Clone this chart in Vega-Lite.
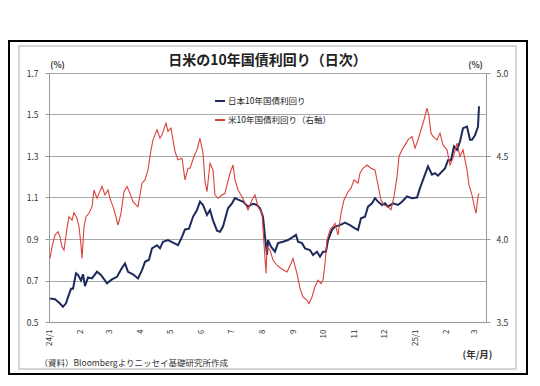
{
  "$schema": "https://vega.github.io/schema/vega-lite/v6.json",
  "width": 437,
  "height": 249,
  "autosize": {"type": "none"},
  "padding": {"left": 49, "top": 73, "right": 54, "bottom": 64},
  "background": "white",
  "config": {
    "font": "Noto Sans CJK JP",
    "view": {"stroke": null},
    "axis": {"labelFont": "Noto Sans CJK JP", "titleFont": "Noto Sans CJK JP", "labelColor": "#333333", "titleColor": "#333333"}
  },
  "title": {"text": "日米の10年国債利回り（日次）", "fontSize": 14, "fontWeight": "bold", "color": "#222222", "anchor": "middle", "frame": "group", "baseline": "middle", "offset": -35},
  "datasets": {
    "frame": [{"k": 1}],
    "jp": [{"d":"2024-01-02","v":0.613},{"d":"2024-01-07","v":0.61},{"d":"2024-01-12","v":0.589},{"d":"2024-01-15","v":0.573},{"d":"2024-01-18","v":0.59},{"d":"2024-01-20","v":0.62},{"d":"2024-01-23","v":0.66},{"d":"2024-01-25","v":0.66},{"d":"2024-01-28","v":0.735},{"d":"2024-01-30","v":0.727},{"d":"2024-02-02","v":0.70},{"d":"2024-02-04","v":0.73},{"d":"2024-02-06","v":0.673},{"d":"2024-02-09","v":0.715},{"d":"2024-02-13","v":0.71},{"d":"2024-02-18","v":0.742},{"d":"2024-02-22","v":0.727},{"d":"2024-02-28","v":0.686},{"d":"2024-03-04","v":0.705},{"d":"2024-03-09","v":0.718},{"d":"2024-03-13","v":0.753},{"d":"2024-03-17","v":0.782},{"d":"2024-03-20","v":0.742},{"d":"2024-03-25","v":0.73},{"d":"2024-03-30","v":0.71},{"d":"2024-04-03","v":0.75},{"d":"2024-04-06","v":0.79},{"d":"2024-04-10","v":0.80},{"d":"2024-04-13","v":0.855},{"d":"2024-04-18","v":0.87},{"d":"2024-04-21","v":0.855},{"d":"2024-04-24","v":0.887},{"d":"2024-04-29","v":0.895},{"d":"2024-05-04","v":0.882},{"d":"2024-05-09","v":0.87},{"d":"2024-05-13","v":0.91},{"d":"2024-05-16","v":0.946},{"d":"2024-05-20","v":0.95},{"d":"2024-05-24","v":1.007},{"d":"2024-05-28","v":1.04},{"d":"2024-05-31","v":1.08},{"d":"2024-06-03","v":1.064},{"d":"2024-06-07","v":1.016},{"d":"2024-06-10","v":1.04},{"d":"2024-06-13","v":0.99},{"d":"2024-06-17","v":0.94},{"d":"2024-06-20","v":0.935},{"d":"2024-06-23","v":0.96},{"d":"2024-06-28","v":1.048},{"d":"2024-07-02","v":1.072},{"d":"2024-07-05","v":1.097},{"d":"2024-07-08","v":1.09},{"d":"2024-07-13","v":1.08},{"d":"2024-07-18","v":1.056},{"d":"2024-07-23","v":1.07},{"d":"2024-07-27","v":1.064},{"d":"2024-07-30","v":1.048},{"d":"2024-08-02","v":1.007},{"d":"2024-08-04","v":0.91},{"d":"2024-08-06","v":0.823},{"d":"2024-08-07","v":0.895},{"d":"2024-08-10","v":0.863},{"d":"2024-08-14","v":0.839},{"d":"2024-08-17","v":0.88},{"d":"2024-08-22","v":0.887},{"d":"2024-08-27","v":0.895},{"d":"2024-09-01","v":0.91},{"d":"2024-09-04","v":0.92},{"d":"2024-09-06","v":0.887},{"d":"2024-09-10","v":0.88},{"d":"2024-09-13","v":0.855},{"d":"2024-09-18","v":0.847},{"d":"2024-09-21","v":0.823},{"d":"2024-09-25","v":0.839},{"d":"2024-09-28","v":0.815},{"d":"2024-10-01","v":0.839},{"d":"2024-10-04","v":0.839},{"d":"2024-10-06","v":0.895},{"d":"2024-10-10","v":0.944},{"d":"2024-10-13","v":0.96},{"d":"2024-10-18","v":0.967},{"d":"2024-10-23","v":0.979},{"d":"2024-10-28","v":0.967},{"d":"2024-11-02","v":0.951},{"d":"2024-11-05","v":0.943},{"d":"2024-11-08","v":1.0},{"d":"2024-11-12","v":1.007},{"d":"2024-11-15","v":1.056},{"d":"2024-11-19","v":1.072},{"d":"2024-11-22","v":1.097},{"d":"2024-11-25","v":1.08},{"d":"2024-11-29","v":1.064},{"d":"2024-12-02","v":1.072},{"d":"2024-12-05","v":1.056},{"d":"2024-12-10","v":1.072},{"d":"2024-12-15","v":1.064},{"d":"2024-12-19","v":1.08},{"d":"2024-12-24","v":1.105},{"d":"2024-12-29","v":1.097},{"d":"2025-01-03","v":1.10},{"d":"2025-01-06","v":1.145},{"d":"2025-01-09","v":1.185},{"d":"2025-01-14","v":1.25},{"d":"2025-01-18","v":1.21},{"d":"2025-01-21","v":1.217},{"d":"2025-01-24","v":1.205},{"d":"2025-01-28","v":1.225},{"d":"2025-01-31","v":1.24},{"d":"2025-02-03","v":1.28},{"d":"2025-02-06","v":1.28},{"d":"2025-02-09","v":1.346},{"d":"2025-02-12","v":1.33},{"d":"2025-02-15","v":1.37},{"d":"2025-02-18","v":1.434},{"d":"2025-02-22","v":1.442},{"d":"2025-02-25","v":1.378},{"d":"2025-02-27","v":1.378},{"d":"2025-03-02","v":1.40},{"d":"2025-03-05","v":1.442},{"d":"2025-03-06","v":1.54}],
    "us": [{"d":"2024-01-02","v":3.883},{"d":"2024-01-04","v":3.953},{"d":"2024-01-07","v":4.024},{"d":"2024-01-10","v":4.044},{"d":"2024-01-12","v":4.014},{"d":"2024-01-14","v":3.953},{"d":"2024-01-16","v":3.933},{"d":"2024-01-19","v":4.064},{"d":"2024-01-21","v":4.134},{"d":"2024-01-24","v":4.114},{"d":"2024-01-26","v":4.159},{"d":"2024-01-29","v":4.124},{"d":"2024-01-31","v":4.074},{"d":"2024-02-02","v":3.963},{"d":"2024-02-03","v":3.883},{"d":"2024-02-05","v":4.074},{"d":"2024-02-07","v":4.134},{"d":"2024-02-10","v":4.155},{"d":"2024-02-13","v":4.195},{"d":"2024-02-15","v":4.295},{"d":"2024-02-18","v":4.245},{"d":"2024-02-20","v":4.275},{"d":"2024-02-23","v":4.316},{"d":"2024-02-26","v":4.265},{"d":"2024-02-29","v":4.295},{"d":"2024-03-02","v":4.245},{"d":"2024-03-05","v":4.195},{"d":"2024-03-08","v":4.134},{"d":"2024-03-10","v":4.084},{"d":"2024-03-13","v":4.155},{"d":"2024-03-16","v":4.285},{"d":"2024-03-19","v":4.316},{"d":"2024-03-22","v":4.275},{"d":"2024-03-25","v":4.225},{"d":"2024-03-28","v":4.205},{"d":"2024-03-30","v":4.195},{"d":"2024-04-03","v":4.336},{"d":"2024-04-06","v":4.356},{"d":"2024-04-09","v":4.416},{"d":"2024-04-12","v":4.537},{"d":"2024-04-14","v":4.597},{"d":"2024-04-18","v":4.658},{"d":"2024-04-21","v":4.607},{"d":"2024-04-23","v":4.628},{"d":"2024-04-27","v":4.698},{"d":"2024-04-29","v":4.648},{"d":"2024-05-02","v":4.668},{"d":"2024-05-06","v":4.527},{"d":"2024-05-09","v":4.477},{"d":"2024-05-13","v":4.487},{"d":"2024-05-16","v":4.356},{"d":"2024-05-19","v":4.426},{"d":"2024-05-21","v":4.426},{"d":"2024-05-25","v":4.497},{"d":"2024-05-28","v":4.537},{"d":"2024-05-31","v":4.607},{"d":"2024-06-03","v":4.517},{"d":"2024-06-05","v":4.346},{"d":"2024-06-07","v":4.285},{"d":"2024-06-10","v":4.456},{"d":"2024-06-13","v":4.416},{"d":"2024-06-15","v":4.265},{"d":"2024-06-18","v":4.245},{"d":"2024-06-22","v":4.265},{"d":"2024-06-25","v":4.275},{"d":"2024-06-27","v":4.326},{"d":"2024-06-30","v":4.396},{"d":"2024-07-03","v":4.446},{"d":"2024-07-05","v":4.356},{"d":"2024-07-08","v":4.295},{"d":"2024-07-12","v":4.255},{"d":"2024-07-15","v":4.215},{"d":"2024-07-18","v":4.175},{"d":"2024-07-22","v":4.235},{"d":"2024-07-25","v":4.265},{"d":"2024-07-28","v":4.195},{"d":"2024-08-01","v":4.155},{"d":"2024-08-03","v":3.973},{"d":"2024-08-05","v":3.792},{"d":"2024-08-06","v":3.953},{"d":"2024-08-09","v":3.933},{"d":"2024-08-12","v":3.873},{"d":"2024-08-16","v":3.842},{"d":"2024-08-20","v":3.822},{"d":"2024-08-23","v":3.812},{"d":"2024-08-26","v":3.802},{"d":"2024-08-30","v":3.852},{"d":"2024-09-01","v":3.883},{"d":"2024-09-05","v":3.792},{"d":"2024-09-08","v":3.702},{"d":"2024-09-11","v":3.651},{"d":"2024-09-15","v":3.631},{"d":"2024-09-17","v":3.611},{"d":"2024-09-20","v":3.651},{"d":"2024-09-23","v":3.712},{"d":"2024-09-26","v":3.752},{"d":"2024-09-29","v":3.732},{"d":"2024-10-01","v":3.752},{"d":"2024-10-03","v":3.852},{"d":"2024-10-05","v":3.993},{"d":"2024-10-08","v":4.054},{"d":"2024-10-12","v":4.084},{"d":"2024-10-13","v":4.094},{"d":"2024-10-16","v":4.024},{"d":"2024-10-19","v":4.155},{"d":"2024-10-22","v":4.235},{"d":"2024-10-26","v":4.285},{"d":"2024-10-29","v":4.306},{"d":"2024-11-01","v":4.356},{"d":"2024-11-05","v":4.336},{"d":"2024-11-07","v":4.396},{"d":"2024-11-10","v":4.426},{"d":"2024-11-14","v":4.446},{"d":"2024-11-18","v":4.426},{"d":"2024-11-22","v":4.416},{"d":"2024-11-25","v":4.326},{"d":"2024-11-28","v":4.235},{"d":"2024-12-01","v":4.205},{"d":"2024-12-05","v":4.195},{"d":"2024-12-08","v":4.175},{"d":"2024-12-11","v":4.255},{"d":"2024-12-14","v":4.376},{"d":"2024-12-16","v":4.497},{"d":"2024-12-19","v":4.537},{"d":"2024-12-22","v":4.567},{"d":"2024-12-25","v":4.597},{"d":"2024-12-29","v":4.618},{"d":"2025-01-01","v":4.547},{"d":"2025-01-04","v":4.597},{"d":"2025-01-07","v":4.658},{"d":"2025-01-10","v":4.718},{"d":"2025-01-13","v":4.789},{"d":"2025-01-15","v":4.738},{"d":"2025-01-17","v":4.638},{"d":"2025-01-19","v":4.618},{"d":"2025-01-23","v":4.597},{"d":"2025-01-26","v":4.638},{"d":"2025-01-29","v":4.567},{"d":"2025-02-02","v":4.537},{"d":"2025-02-05","v":4.446},{"d":"2025-02-08","v":4.487},{"d":"2025-02-12","v":4.577},{"d":"2025-02-15","v":4.497},{"d":"2025-02-18","v":4.537},{"d":"2025-02-22","v":4.416},{"d":"2025-02-24","v":4.326},{"d":"2025-02-27","v":4.265},{"d":"2025-03-01","v":4.205},{"d":"2025-03-03","v":4.155},{"d":"2025-03-05","v":4.255},{"d":"2025-03-06","v":4.275}]
  },
  "layer": [
    {
      "data": {"name": "frame"},
      "mark": {"type": "rect", "fill": "transparent", "stroke": "#000000", "strokeWidth": 2},
      "encoding": {"x": {"value": -40}, "x2": {"value": 478}, "y": {"value": -32}, "y2": {"value": 301}}
    },
    {
      "data": {"name": "frame"},
      "mark": {"type": "rect", "fill": "transparent", "stroke": "#c8c8c8", "strokeWidth": 1.5},
      "encoding": {"x": {"value": -30}, "x2": {"value": 467}, "y": {"value": -27}, "y2": {"value": 296}}
    },
    {
      "data": {"name": "jp"},
      "mark": {"type": "line", "strokeWidth": 2},
      "encoding": {
        "x": {
          "field": "d", "type": "temporal",
          "scale": {"type": "utc", "domain": [{"year": 2024, "month": 1, "date": 1, "utc": true}, {"year": 2025, "month": 3, "date": 13, "utc": true}]},
          "axis": {
            "orient": "bottom", "grid": false, "ticks": false, "domainColor": "#999999",
            "tickCount": {"interval": "month", "step": 1},
            "labelAngle": 270, "labelFontSize": 8, "labelPadding": 7, "labelOverlap": false, "labelFlush": false,
            "labelExpr": "utcmonth(datum.value) === 0 ? utcFormat(datum.value, '%y') + '/1' : '' + (utcmonth(datum.value) + 1)",
            "title": "(年/月)", "titleX": 428, "titleY": 32, "titleAlign": "center", "titleBaseline": "middle", "titleFontSize": 9.5, "titleFontWeight": "bold"
          }
        },
        "y": {
          "field": "v", "type": "quantitative",
          "scale": {"domain": [0.5, 1.7], "nice": false, "zero": false},
          "axis": {
            "orient": "left", "values": [0.5, 0.7, 0.9, 1.1, 1.3, 1.5, 1.7], "format": ".1f",
            "grid": true, "gridColor": "#a8a8a8", "domainColor": "#999999", "tickColor": "#999999", "tickSize": 4,
            "labelFontSize": 8.5, "labelPadding": 7,
            "title": "(%)", "titleAngle": 0, "titleX": 8, "titleY": -9, "titleAlign": "center", "titleBaseline": "middle", "titleFontSize": 8.5, "titleFontWeight": "bold"
          }
        },
        "color": {
          "datum": "日本10年国債利回り", "type": "nominal",
          "scale": {"domain": ["日本10年国債利回り", "米10年国債利回り（右軸）"], "range": ["#1f2a5c", "#d9433b"]},
          "legend": {"orient": "none", "legendX": 165, "legendY": 22, "title": null, "symbolType": "stroke", "symbolSize": 100, "symbolStrokeWidth": 2, "labelFontSize": 8.5, "labelColor": "#222222", "rowPadding": 8, "padding": 0, "labelOffset": 2}
        }
      }
    },
    {
      "data": {"name": "us"},
      "mark": {"type": "line", "strokeWidth": 1.1},
      "encoding": {
        "x": {
          "field": "d", "type": "temporal",
          "axis": {
            "orient": "top", "labels": false, "ticks": false, "domain": false, "grid": false,
            "title": "（資料）Bloombergよりニッセイ基礎研究所作成", "titleX": -10, "titleY": 289, "titleAlign": "left", "titleAnchor": "start", "titleBaseline": "middle", "titleFontSize": 8.5, "titleFontWeight": "normal"
          }
        },
        "y": {
          "field": "v", "type": "quantitative",
          "scale": {"domain": [3.5, 5.0], "nice": false, "zero": false},
          "axis": {
            "orient": "right", "values": [3.5, 4.0, 4.5, 5.0], "format": ".1f",
            "grid": false, "domainColor": "#999999", "tickColor": "#999999", "tickSize": 4,
            "labelFontSize": 8.5, "labelPadding": 6,
            "title": "(%)", "titleAngle": 0, "titleX": -11, "titleY": -9, "titleAlign": "center", "titleBaseline": "middle", "titleFontSize": 8.5, "titleFontWeight": "bold"
          }
        },
        "color": {"datum": "米10年国債利回り（右軸）", "type": "nominal"}
      }
    }
  ],
  "resolve": {"scale": {"y": "independent"}, "axis": {"x": "independent", "y": "independent"}}
}
